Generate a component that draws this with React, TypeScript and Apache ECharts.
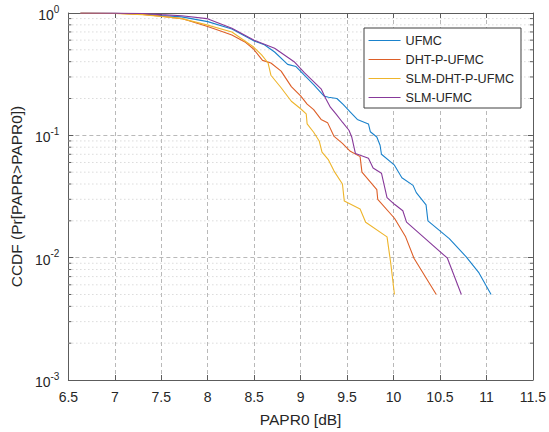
import React, { useEffect, useRef } from "react";
import * as echarts from "echarts";

// Axis ranges / ticks
const X_MIN = 6.5;
const X_MAX = 11.5;
const X_STEP = 0.5;
const Y_MIN = 0.001;
const Y_MAX = 1;
const MINOR_Y = [
  0.002, 0.003, 0.004, 0.005, 0.006, 0.007, 0.008, 0.009,
  0.02, 0.03, 0.04, 0.05, 0.06, 0.07, 0.08, 0.09,
  0.2, 0.3, 0.4, 0.5, 0.6, 0.7, 0.8, 0.9,
];

const SERIES_NAMES = ["UFMC", "DHT-P-UFMC", "SLM-DHT-P-UFMC", "SLM-UFMC"];
const COLORS = ["#1a82cc", "#DD5F28", "#EEB52C", "#87399A"];

// [PAPR0 dB, CCDF]
const UFMC = [
  [6.63, 1], [7.0, 0.995], [7.3, 0.98], [7.5, 0.955], [7.72, 0.93], [8.0, 0.85],
  [8.26, 0.74], [8.5, 0.59], [8.61, 0.55], [8.72, 0.48], [8.86, 0.38], [8.95, 0.365],
  [9.04, 0.31], [9.14, 0.26], [9.25, 0.21], [9.3, 0.205], [9.39, 0.2], [9.46, 0.178],
  [9.535, 0.155], [9.61, 0.135], [9.73, 0.124], [9.75, 0.107], [9.82, 0.097],
  [9.855, 0.083], [9.87, 0.07], [10.01, 0.057], [10.09, 0.045], [10.21, 0.039],
  [10.245, 0.034], [10.35, 0.027], [10.37, 0.02], [10.6, 0.0143], [10.78, 0.0102],
  [10.92, 0.0075], [11.05, 0.005],
];
const DHT_P_UFMC = [
  [6.63, 1], [7.0, 0.995], [7.3, 0.975], [7.5, 0.94], [7.72, 0.9], [7.99, 0.78],
  [8.1, 0.73], [8.26, 0.66], [8.4, 0.58], [8.49, 0.51], [8.59, 0.41], [8.68, 0.39],
  [8.79, 0.335], [8.9, 0.25], [9.0, 0.21], [9.07, 0.18], [9.14, 0.162], [9.22, 0.135],
  [9.29, 0.127], [9.36, 0.098], [9.45, 0.086], [9.535, 0.074], [9.64, 0.067],
  [9.66, 0.05], [9.82, 0.036], [9.83, 0.03], [10.01, 0.021], [10.13, 0.0148],
  [10.22, 0.0099], [10.46, 0.005],
];
const SLM_DHT_P_UFMC = [
  [6.63, 1], [7.0, 0.99], [7.3, 0.97], [7.5, 0.935], [7.72, 0.9], [7.99, 0.8],
  [8.26, 0.7], [8.49, 0.53], [8.58, 0.455], [8.65, 0.39], [8.68, 0.31], [8.79, 0.245],
  [8.9, 0.19], [9.0, 0.165], [9.06, 0.15], [9.07, 0.124], [9.14, 0.106], [9.2, 0.09],
  [9.23, 0.073], [9.3, 0.063], [9.36, 0.051], [9.45, 0.04], [9.47, 0.029],
  [9.64, 0.025], [9.7, 0.0195], [9.93, 0.0148], [9.97, 0.009], [10.01, 0.005],
];
const SLM_UFMC = [
  [6.63, 1], [7.0, 0.998], [7.3, 0.99], [7.5, 0.97], [7.72, 0.95], [7.99, 0.9],
  [8.26, 0.75], [8.5, 0.6], [8.72, 0.515], [8.93, 0.4], [9.04, 0.325], [9.22, 0.24],
  [9.27, 0.2], [9.32, 0.17], [9.38, 0.15], [9.45, 0.128], [9.52, 0.11], [9.55, 0.097],
  [9.59, 0.071], [9.73, 0.065], [9.78, 0.054], [9.87, 0.049], [9.93, 0.031],
  [10.01, 0.0273], [10.1, 0.0242], [10.14, 0.0195], [10.32, 0.0148], [10.58, 0.0099],
  [10.73, 0.005],
];
const SERIES_DATA = [UFMC, DHT_P_UFMC, SLM_DHT_P_UFMC, SLM_UFMC];

const FONT = "'Liberation Sans', Arial, Helvetica, sans-serif";
const AXIS_COLOR = "#5c5c5c";
const TEXT_COLOR = "#262626";
const MAJOR_GRID = "#b9b9b9";
const MINOR_GRID = "#c9c9c9";

export default function App() {
  const ref = useRef<HTMLDivElement>(null);

  useEffect(() => {
    if (!ref.current) return;
    const chart = echarts.init(ref.current, undefined, { renderer: "svg" });

    const lineSeries = SERIES_NAMES.map((name, i) => ({
      name,
      type: "line",
      data: SERIES_DATA[i],
      symbol: "none",
      showSymbol: false,
      lineStyle: { width: 1.1, color: COLORS[i] },
      itemStyle: { color: COLORS[i] },
      z: 3,
    }));

    const minorSeries = {
      type: "custom",
      name: "minor",
      silent: true,
      z: 1,
      xAxisIndex: 0,
      yAxisIndex: 0,
      data: MINOR_Y.map((v) => [X_MIN, v]),
      renderItem: (_params: any, api: any) => {
        const v = api.value(1);
        const p1 = api.coord([X_MIN, v]);
        const p2 = api.coord([X_MAX, v]);
        return {
          type: "group",
          children: [
            {
              type: "line",
              shape: { x1: p1[0], y1: p1[1], x2: p2[0], y2: p2[1] },
              style: { stroke: MINOR_GRID, lineWidth: 1, lineDash: [1, 3] },
            },
            {
              type: "line",
              shape: { x1: p1[0], y1: p1[1], x2: p1[0] + 3, y2: p1[1] },
              style: { stroke: AXIS_COLOR, lineWidth: 1 },
            },
            {
              type: "line",
              shape: { x1: p2[0], y1: p2[1], x2: p2[0] - 3, y2: p2[1] },
              style: { stroke: AXIS_COLOR, lineWidth: 1 },
            },
          ],
        };
      },
    };

    const option: any = {
      animation: false,
      backgroundColor: "#ffffff",
      textStyle: { fontFamily: FONT },
      grid: { left: 65, right: 15, top: 13, bottom: 47, containLabel: false },
      legend: {
        data: SERIES_NAMES,
        orient: "vertical",
        left: 364,
        top: 28,
        padding: [6, 7, 4, 4],
        itemWidth: 32,
        itemHeight: 12,
        itemGap: 6,
        backgroundColor: "#ffffff",
        borderColor: "#404040",
        borderWidth: 1,
        borderRadius: 0,
        itemStyle: { opacity: 0 },
        lineStyle: { width: 1.1 },
        textStyle: { fontFamily: FONT, fontSize: 12.6, color: TEXT_COLOR },
        selectedMode: false,
      },
      xAxis: [
        {
          type: "value",
          min: X_MIN,
          max: X_MAX,
          interval: X_STEP,
          position: "bottom",
          name: "PAPR0 [dB]",
          nameLocation: "middle",
          nameGap: 31,
          nameTextStyle: { fontFamily: FONT, fontSize: 15.5, color: TEXT_COLOR },
          axisLine: { show: true, lineStyle: { color: AXIS_COLOR, width: 1 } },
          axisTick: { show: true, inside: true, length: 5, lineStyle: { color: AXIS_COLOR } },
          axisLabel: {
            fontFamily: FONT,
            fontSize: 14,
            color: TEXT_COLOR,
            margin: 10,
            formatter: (v: number) => String(v),
          },
          splitLine: { show: true, lineStyle: { color: MAJOR_GRID, type: [4, 3], width: 1 } },
        },
        {
          type: "value",
          min: X_MIN,
          max: X_MAX,
          interval: X_STEP,
          position: "top",
          axisLine: { show: true, lineStyle: { color: AXIS_COLOR, width: 1 } },
          axisTick: { show: true, inside: true, length: 5, lineStyle: { color: AXIS_COLOR } },
          axisLabel: { show: false },
          splitLine: { show: false },
        },
      ],
      yAxis: [
        {
          type: "log",
          logBase: 10,
          min: Y_MIN,
          max: Y_MAX,
          splitNumber: 3,
          position: "left",
          name: "CCDF (Pr[PAPR>PAPR0])",
          nameLocation: "middle",
          nameGap: 38,
          nameTextStyle: { fontFamily: FONT, fontSize: 15.5, color: TEXT_COLOR },
          axisLine: { show: true, lineStyle: { color: AXIS_COLOR, width: 1 } },
          axisTick: { show: true, inside: true, length: 5, lineStyle: { color: AXIS_COLOR } },
          axisLabel: {
            margin: 9,
            formatter: (v: number) => {
              const e = Math.round(Math.log10(v));
              return `{b|10}{s|${e}}`;
            },
            rich: {
              b: { fontFamily: FONT, fontSize: 14, color: TEXT_COLOR, verticalAlign: "bottom" },
              s: {
                fontFamily: FONT,
                fontSize: 10,
                color: TEXT_COLOR,
                verticalAlign: "bottom",
                padding: [0, 0, 8, 0],
              },
            },
          },
          splitLine: { show: true, lineStyle: { color: MAJOR_GRID, type: [4, 3], width: 1 } },
        },
        {
          type: "log",
          logBase: 10,
          min: Y_MIN,
          max: Y_MAX,
          splitNumber: 3,
          position: "right",
          axisLine: { show: true, lineStyle: { color: AXIS_COLOR, width: 1 } },
          axisTick: { show: true, inside: true, length: 5, lineStyle: { color: AXIS_COLOR } },
          axisLabel: { show: false },
          splitLine: { show: false },
        },
      ],
      series: [minorSeries, ...lineSeries],
    };

    chart.setOption(option);
    return () => chart.dispose();
  }, []);

  return (
    <div
      ref={ref}
      style={{ position: "fixed", left: 0, top: 0, width: 549, height: 432, background: "#fff" }}
    />
  );
}
